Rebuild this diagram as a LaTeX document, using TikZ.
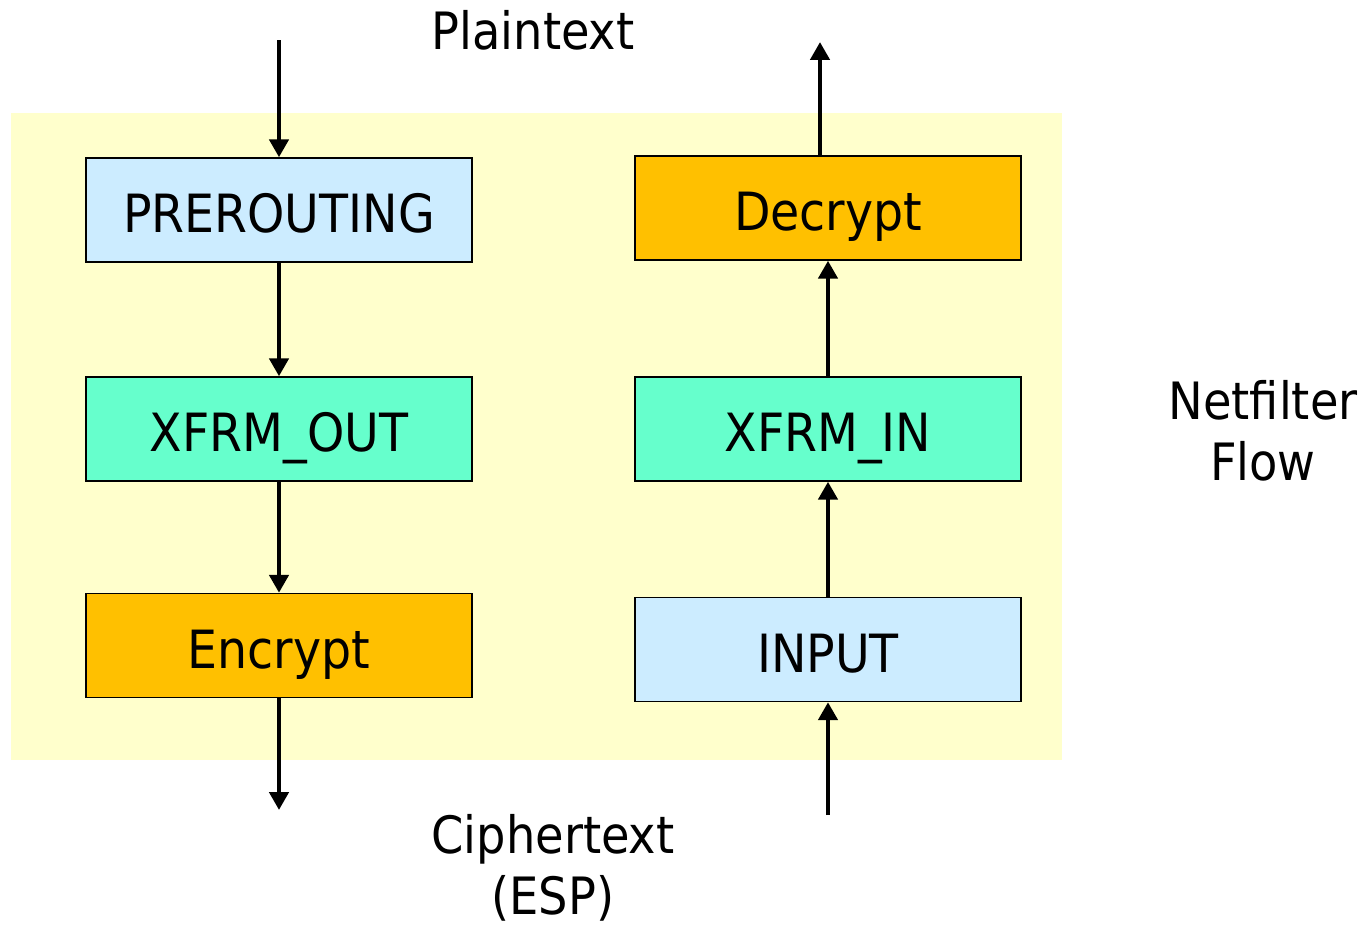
\documentclass[tikz,border=0pt]{standalone}
\usepackage{fontspec}
\setmainfont{DejaVu Sans Condensed}
\usepackage{xcolor}
\usetikzlibrary{arrows.meta}
\definecolor{paleyellow}{HTML}{FFFFCC}
\definecolor{lightblue}{HTML}{CCECFF}
\definecolor{aqua}{HTML}{66FFCC}
\definecolor{amber}{HTML}{FFC000}

\begin{document}
\begin{tikzpicture}[x=0.02cm,y=-0.02cm,
    chain/.style={draw=black,line width=0.8pt,minimum width=7.72cm,minimum height=2.08cm,inner sep=0pt,
        text height=0.9cm,text depth=0pt,font=\fontsize{30}{36}\selectfont},
    lbl/.style={align=center,font=\fontsize{29.3}{35}\selectfont},
    flow/.style={line width=2.8pt,-{Triangle[length=0.36cm,width=0.38cm]}}]
    \useasboundingbox (0,0) rectangle (1363,933);
    \fill[paleyellow] (11,113) rectangle (1062,760);
    % outbound chain
    \node[chain,fill=lightblue] (pre) at (279,210) {PREROUTING};
    \node[chain,fill=aqua] (xout) at (279,429) {XFRM\_OUT};
    \node[chain,fill=amber] (enc) at (279,645.5) {Encrypt};
    % inbound chain
    \node[chain,fill=amber] (dec) at (828,208) {Decrypt};
    \node[chain,fill=aqua] (xin) at (828,429) {XFRM\_IN};
    \node[chain,fill=lightblue] (inp) at (828,649.5) {INPUT};
    % labels
    \node[lbl] (plain) at (533,30) {Plaintext};
    \node[lbl] (cipher) at (553,868) {Ciphertext\\(ESP)};
    \node[lbl] (nf) at (1263,431) {Netfilter\\Flow};
    % free ends
    \coordinate (intop) at (279,40);
    \coordinate (outbot) at (279,810);
    \coordinate (inbot) at (828,815);
    \coordinate (outtop) at (820,42);
    \draw[flow] (intop) -- (pre);
    \draw[flow] (pre) -- (xout);
    \draw[flow] (xout) -- (enc);
    \draw[flow] (enc) -- (outbot);
    \draw[flow] (inbot) -- (inp);
    \draw[flow] (inp) -- (xin);
    \draw[flow] (xin) -- (dec);
    \draw[flow] (dec.north -| outtop) -- (outtop);
\end{tikzpicture}
\end{document}
